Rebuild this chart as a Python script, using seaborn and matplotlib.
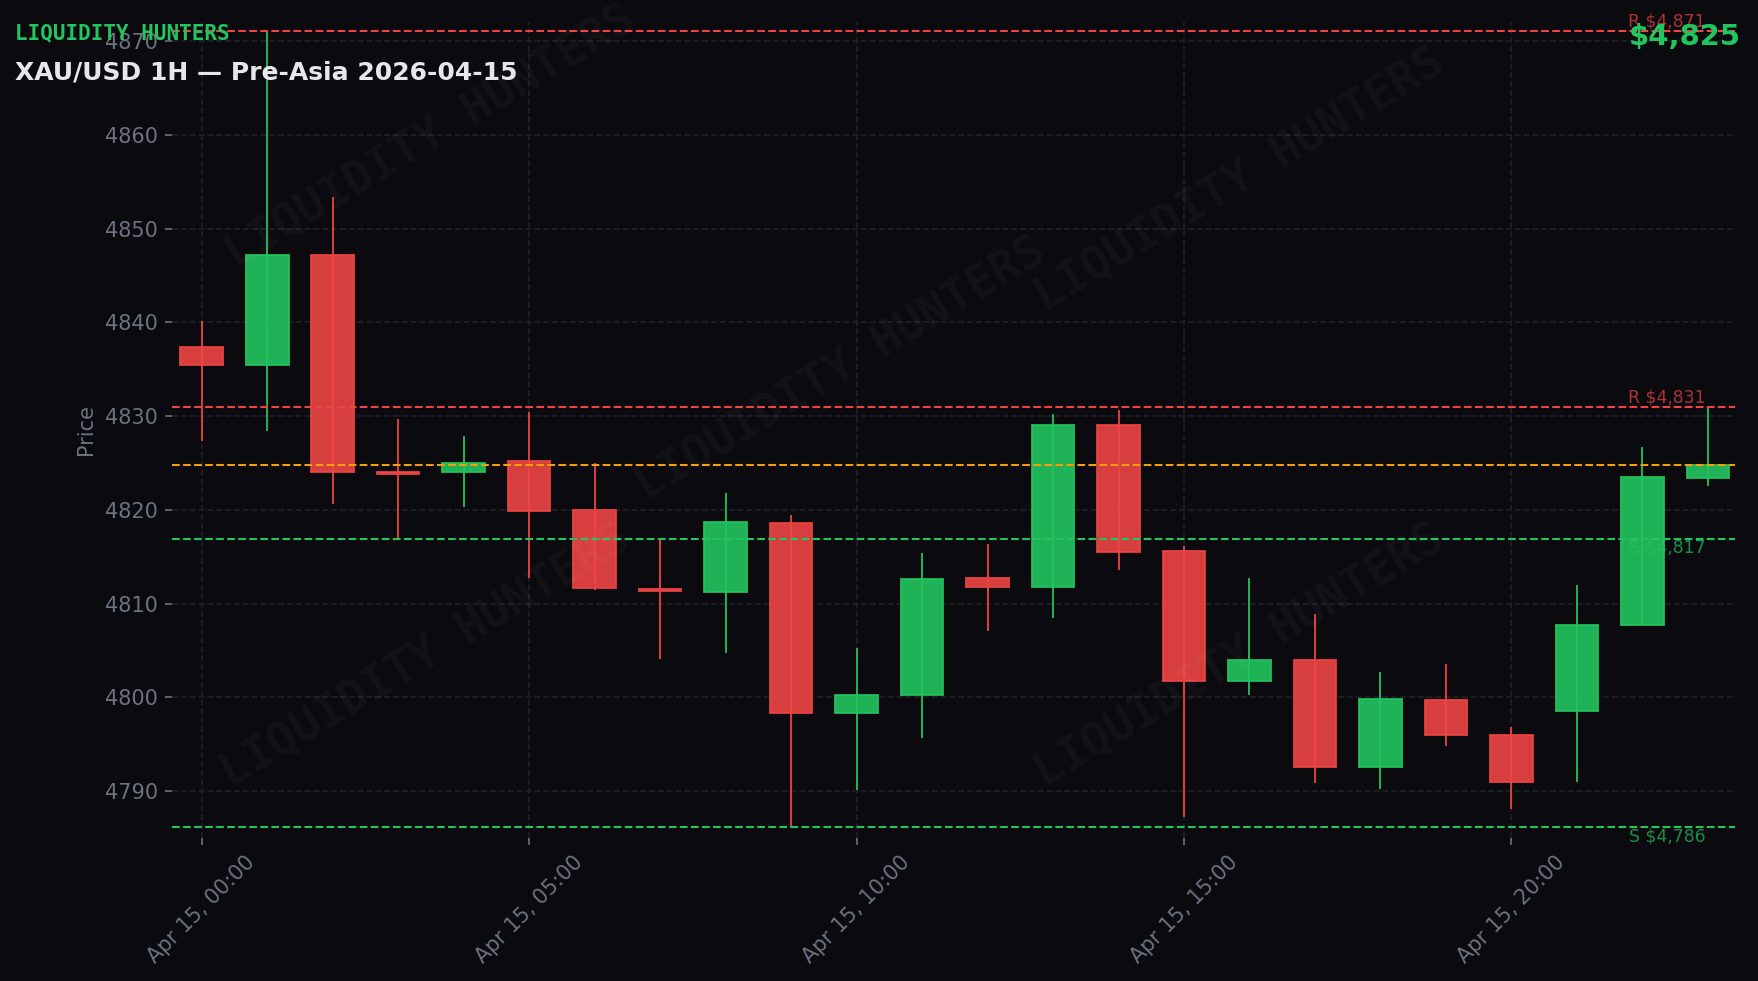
import pandas as pd
import seaborn as sns
import matplotlib.pyplot as plt
import matplotlib.dates as mdates

# Colors
BG = "#0a0a0f"
GRID = "#20202a"
MUTED = "#6b7280"
GREEN = "#22c55e"
RED = "#ef4444"
ORANGE = "#f59e0b"

# 1H candles, Apr 15 2026
times = pd.date_range("2026-04-15 00:00", periods=24, freq="h")
opens = [4837.4, 4835.5, 4847.2, 4824.0, 4824.0, 4825.2, 4820.0, 4811.6,
         4811.2, 4818.6, 4798.3, 4800.2, 4812.7, 4811.8, 4829.0, 4815.6,
         4801.7, 4804.0, 4792.6, 4799.7, 4796.0, 4798.5, 4807.7, 4823.4]
highs = [4840.1, 4871.2, 4853.4, 4829.7, 4827.9, 4830.4, 4825.0, 4816.8,
         4821.8, 4819.4, 4805.2, 4815.4, 4816.3, 4830.2, 4830.7, 4816.1,
         4812.7, 4808.9, 4802.7, 4803.5, 4796.8, 4812.0, 4826.7, 4831.1]
lows = [4827.3, 4828.4, 4820.6, 4816.9, 4820.3, 4812.7, 4811.4, 4804.1,
        4804.7, 4786.2, 4790.1, 4795.6, 4807.1, 4808.5, 4813.6, 4787.2,
        4800.2, 4790.8, 4790.2, 4794.8, 4788.1, 4791.0, 4807.7, 4822.5]
closes = [4835.5, 4847.2, 4824.0, 4823.8, 4825.0, 4819.9, 4811.7, 4811.3,
          4818.7, 4798.3, 4800.2, 4812.6, 4811.8, 4829.0, 4815.5, 4801.7,
          4804.0, 4792.6, 4799.8, 4796.0, 4791.0, 4807.7, 4823.5, 4824.8]

resistance = [4871.1, 4831.0]
support = [4816.9, 4786.1]

df = pd.DataFrame({"time": times, "open": opens, "high": highs,
                   "low": lows, "close": closes})
df["up"] = df["close"] >= df["open"]
df["color"] = df["up"].map({True: GREEN, False: RED})
df["body_lo"] = df[["open", "close"]].min(axis=1)
df["body_h"] = (df["close"] - df["open"]).abs().clip(lower=0.15)
current = closes[-1]

sns.set_theme(style="darkgrid", rc={
    "figure.facecolor": BG,
    "axes.facecolor": BG,
    "savefig.facecolor": BG,
    "grid.color": GRID,
    "grid.linestyle": "--",
    "grid.linewidth": 0.8,
    "axes.edgecolor": BG,
    "xtick.color": MUTED,
    "ytick.color": MUTED,
    "xtick.bottom": True,
    "ytick.left": True,
    "axes.labelcolor": MUTED,
})
plt.rcParams["font.family"] = ["DejaVu Sans"]

fig = plt.figure(figsize=(11.72, 6.54), dpi=150)
ax = fig.add_axes([0.098, 0.146, 0.889, 0.832])

# wicks and bodies
bar_w = 0.65 / 24
ax.vlines(df["time"], df["low"], df["high"], colors=df["color"],
          linewidth=0.85, zorder=2)
ax.bar(df["time"], df["body_h"], bottom=df["body_lo"], width=bar_w,
       color=df["color"], alpha=0.9, edgecolor=df["color"],
       linewidth=0.9, zorder=3)

# key levels
lab_tr = ax.get_yaxis_transform()
for lvl in resistance:
    ax.axhline(lvl, color=RED, linestyle="--", linewidth=1.0, zorder=4)
    ax.text(0.981, lvl, f"R ${lvl:,.0f}", transform=lab_tr, ha="right",
            va="bottom", color=RED, alpha=0.7, fontsize=8.3, zorder=5)
for lvl in support:
    ax.axhline(lvl, color=GREEN, linestyle="--", linewidth=1.0, zorder=4)
    ax.text(0.981, lvl, f"S ${lvl:,.0f}", transform=lab_tr, ha="right",
            va="top", color=GREEN, alpha=0.7, fontsize=8.3, zorder=5)
ax.axhline(current, color=ORANGE, linestyle="--", linewidth=1.0, zorder=4)

# axes
ax.set_xlim(times[0] - pd.Timedelta(minutes=27), times[-1] + pd.Timedelta(minutes=25))
ax.set_ylim(min(lows) - 1.2, max(highs) + 0.9)
ax.xaxis.set_major_locator(mdates.HourLocator(byhour=range(0, 24, 5)))
ax.xaxis.set_major_formatter(mdates.DateFormatter("%b %d, %H:%M"))
ax.yaxis.set_major_locator(plt.MultipleLocator(10))
ax.tick_params(axis="both", labelsize=10, length=3.5, width=0.8)
plt.setp(ax.get_xticklabels(), rotation=45)
ax.set_xlabel("")
ax.set_ylabel("Price", fontsize=10)
for s in ax.spines.values():
    s.set_visible(False)

# watermarks
for wx, wy in [(0.245, 0.86), (0.705, 0.817), (0.478, 0.624),
               (0.242, 0.331), (0.705, 0.331)]:
    fig.text(wx, wy, "LIQUIDITY HUNTERS", family="DejaVu Sans Mono",
             fontweight="bold", fontsize=22, color="white", alpha=0.035,
             rotation=31, ha="center", va="center", zorder=10)

# header texts
fig.text(0.0083, 0.976, "LIQUIDITY HUNTERS", family="DejaVu Sans Mono",
         fontweight="bold", fontsize=10, color=GREEN, va="top")
fig.text(0.0083, 0.938, "XAU/USD 1H — Pre-Asia 2026-04-15",
         fontweight="bold", fontsize=12, color="#e5e7eb", va="top")
fig.text(0.990, 0.977, f"${current:,.0f}", fontweight="bold", fontsize=14,
         color=GREEN, ha="right", va="top")

fig.savefig("out.png", dpi=150)
